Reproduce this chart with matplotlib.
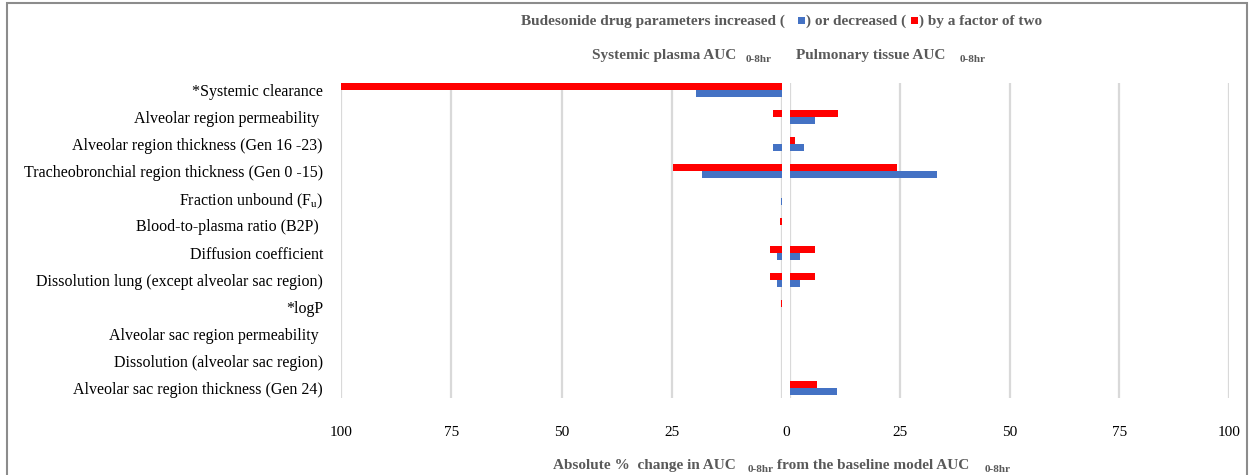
import matplotlib
matplotlib.use("Agg")
import matplotlib.pyplot as plt
from matplotlib.patches import Rectangle
import numpy as np

# Parameters tested in the sensitivity analysis (top to bottom)
categories = [
    "*Systemic clearance",
    "Alveolar region permeability ",
    "Alveolar region thickness (Gen 16 -23)",
    "Tracheobronchial region thickness (Gen 0 -15)",
    r"Fraction unbound (F$_\mathregular{u}$)",
    "Blood-to-plasma ratio (B2P) ",
    "Diffusion coefficient",
    "Dissolution lung (except alveolar sac region)",
    "*logP",
    "Alveolar sac region permeability ",
    "Dissolution (alveolar sac region)",
    "Alveolar sac region thickness (Gen 24)",
]

# Absolute % change in systemic plasma AUC(0-8hr)
plasma_decreased = [100.0, 2.1, 0.0, 24.8, 0.0, 0.5, 2.7, 2.7, 0.2, 0.0, 0.0, 0.0]
plasma_increased = [19.6, 0.0, 2.1, 18.2, 0.3, 0.1, 1.1, 1.1, 0.0, 0.0, 0.0, 0.0]

# Absolute % change in pulmonary tissue AUC(0-8hr)
tissue_decreased = [0.0, 10.9, 1.1, 24.4, 0.0, 0.0, 5.7, 5.7, 0.0, 0.0, 0.0, 6.1]
tissue_increased = [0.0, 5.7, 3.2, 33.5, 0.0, 0.0, 2.3, 2.3, 0.0, 0.0, 0.0, 10.6]

x_ticks = [0, 25, 50, 75, 100]

RED = "#FF0000"
BLUE = "#4472C4"
GRID = "#D9D9D9"
TITLE_GREY = "#595959"
SERIF = "Liberation Serif"

W, H = 1249, 475
fig = plt.figure(figsize=(W / 100, H / 100), dpi=100)
fig.patch.set_facecolor("white")

ax_l = fig.add_axes([341 / W, 1 - 398 / H, 441 / W, 315 / H])
ax_r = fig.add_axes([790 / W, 1 - 398 / H, 439 / W, 315 / H], sharey=ax_l)

y = np.arange(len(categories))
bh = 0.26

ax_l.barh(y - bh / 2, plasma_decreased, height=bh, color=RED, linewidth=0, zorder=3)
ax_l.barh(y + bh / 2, plasma_increased, height=bh, color=BLUE, linewidth=0, zorder=3)
ax_r.barh(y - bh / 2, tissue_decreased, height=bh, color=RED, linewidth=0, zorder=3)
ax_r.barh(y + bh / 2, tissue_increased, height=bh, color=BLUE, linewidth=0, zorder=3)

ax_l.set_xlim(100, 0)
ax_r.set_xlim(0, 100)
ax_l.set_ylim(11.365, -0.258)

TICK_PAD = 20
for ax in (ax_l, ax_r):
    for s in ax.spines.values():
        s.set_visible(False)
    ax.set_xticks(x_ticks)
    ax.grid(axis="x", color=GRID, linewidth=1.6, zorder=0)
    ax.tick_params(axis="x", length=0, pad=TICK_PAD, labelsize=11)
    ax.tick_params(axis="y", length=0)

ax_l.set_xticklabels(["" if v == 0 else str(v) for v in x_ticks], fontfamily=SERIF, fontsize=11)
ax_r.set_xticklabels(["" if v == 0 else str(v) for v in x_ticks], fontfamily=SERIF, fontsize=11)
# single shared zero label between the two panels
ax_r.annotate("0", xy=(0, 0), xycoords="axes fraction", xytext=(-3, -TICK_PAD),
              textcoords="offset points", ha="center", va="top",
              fontsize=11, fontfamily=SERIF)

ax_l.set_yticks(y)
ax_l.set_yticklabels(categories, fontfamily=SERIF, fontsize=11.5, color="black")
ax_l.tick_params(axis="y", pad=13)
ax_r.tick_params(axis="y", left=False, labelleft=False)

renderer = fig.canvas.get_renderer()


def chain(parts, cx, baseline):
    """Lay out a row of text pieces and colour boxes centred at cx (pixels).

    dy > 0 moves a piece down (subscripts); for boxes dy is the height of the
    box centre above the baseline.
    """
    placed = []
    total = 0.0
    for p in parts:
        if p[0] == "text":
            _, s, size, dy, gap = p
            t = fig.text(0, 0, s, fontsize=size, fontweight="bold", color=TITLE_GREY,
                         fontfamily=SERIF, ha="left", va="baseline")
            w = t.get_window_extent(renderer=renderer).width
            placed.append(("text", t, gap, w, dy))
            total += gap + w
        else:
            _, color, size, dy, gap = p
            placed.append(("box", color, gap, size, dy))
            total += gap + size
    x = cx - total / 2
    for kind, obj, gap, w, dy in placed:
        x += gap
        if kind == "text":
            obj.set_position((x / W, (H - baseline - dy) / H))
        else:
            yc = H - baseline + dy
            fig.patches.append(Rectangle((x / W, (yc - w / 2) / H), w / W, w / H,
                                         transform=fig.transFigure, color=obj,
                                         linewidth=0))
        x += w


chain([
    ("text", "Budesonide drug parameters increased (", 11, 0, 0),
    ("box", BLUE, 7, 4.5, 13),
    ("text", ") or decreased (", 11, 0, 1),
    ("box", RED, 7, 4.5, 5),
    ("text", ") by a factor of two", 11, 0, 1),
], 782, 25)

chain([
    ("text", "Systemic plasma AUC", 11, 0, 0),
    ("text", "0-8hr", 8, 3.5, 10),
], 682, 59)

chain([
    ("text", "Pulmonary tissue AUC", 11, 0, 0),
    ("text", "0-8hr", 8, 3.5, 14),
], 891, 59)

chain([
    ("text", "Absolute %  change in AUC", 11, 0, 0),
    ("text", "0-8hr", 8, 3.5, 12),
    ("text", "from the baseline model AUC", 11, 0, 3),
    ("text", "0-8hr", 8, 3.5, 16),
], 782, 469)

# grey frame around the chart area
fig.patches.append(Rectangle((7 / W, -0.05), 1240 / W, 1.05 - 3 / H,
                             transform=fig.transFigure, fill=False,
                             edgecolor="#8C8C8C", linewidth=1.5))

fig.savefig("out.png", dpi=100)
